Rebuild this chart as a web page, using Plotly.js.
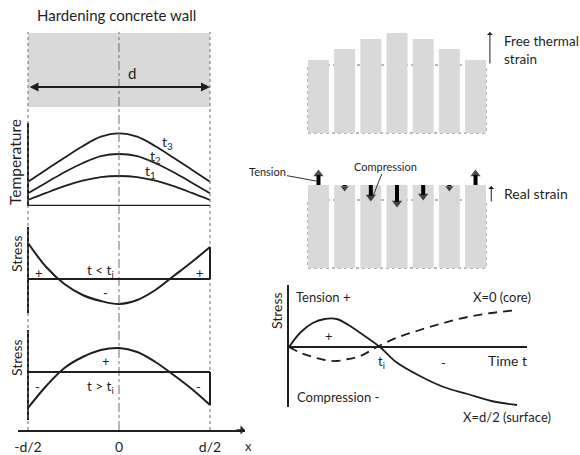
<!DOCTYPE html>
<html><head><meta charset="utf-8">
<script src="https://cdn.plot.ly/plotly-3.0.1.min.js"></script>
<style>html,body{margin:0;padding:0;background:#fff}#chart{width:580px;height:455px}</style>
</head><body><div id="chart"></div>
<script>
// ---------------- data ----------------
// positions across the wall thickness (in units of d)
const wallPos = [-0.5, -0.4, -0.3, -0.2, -0.1, 0, 0.1, 0.2, 0.3, 0.4, 0.5];
const wallTicks = [-0.5, 0, 0.5];
const wallTickText = ['-d/2', '0', 'd/2'];
// temperature profiles at three times
const tempT1 = [5.7, 12.8, 19.5, 25, 28.6, 29.7, 28.6, 25, 19.5, 12.8, 5.7];
const tempT2 = [12.4, 23, 33.5, 42.5, 49.5, 51.7, 49.5, 42.5, 33.5, 23, 12.4];
const tempT3 = [24, 36, 48, 59.5, 69, 72.4, 69, 59.5, 48, 36, 24];
// stress profiles before / after ti
const stressEarly = [36, 12, -5, -16, -22, -25, -21, -11, 3, 17, 32];
const stressLate = [-36, -14, 4, 15, 22, 24, 20, 10, -3, -17, -33];
// strips of the wall
const strips = [1, 2, 3, 4, 5, 6, 7];
const initialLength = 68;
const freeLength = [73, 84, 94, 100, 94, 84, 73];
const realLength = [83, 83, 83, 83, 83, 83, 83];
const restraintArrow = [15, -6, -16, -22, -15, -6, 15];
// stress development in time
const timeSurface = [0, 0.5, 1, 1.5, 2, 2.5, 3, 3.82, 4.5, 5.5, 6.5, 7.5, 8.5, 9.58];
const stressSurface = [0, 15, 24, 28, 28, 22, 14, 0, -15, -29, -40, -47, -54, -58];
const timeCore = [0, 0.5, 1, 1.5, 2, 2.5, 3, 3.7, 4.5, 5.5, 6.5, 7.5, 8.5, 9.58];
const stressCore = [0, -6, -10, -13, -14, -12, -9, 0, 9, 17, 24, 30, 34, 37];

// ---------------- helpers ----------------
const W = 580, H = 455;
const PX = v => v / W;
const PY = v => 1 - v / H;
const INK = '#1f1f1f';
const FONT = 'Lato, "Open Sans", sans-serif';
const GRAY = '#d9d9d9';
const XMIN = -0.5 - 10 / 182, XMAX = 0.5 + 35 / 182;
const X2MIN = 0.6 - 68 / 26.18, X2MAX = 7.4 + 94 / 26.18;

const base = {type: 'scatter', hoverinfo: 'skip', showlegend: false};
const line = (y, ya, w) => Object.assign({}, base, {
  x: wallPos, y: y, xaxis: 'x', yaxis: ya, mode: 'lines',
  line: {color: INK, width: w || 2, shape: 'spline', smoothing: 1}
});

// restraint stress arrows: shafts and heads built from the arrow values
const HEAD = 4;
const shaftX = [], shaftY = [], headY = [], headSym = [], headSize = [];
strips.forEach((s, i) => {
  const a = restraintArrow[i], sg = Math.sign(a), big = Math.abs(a) > 8;
  shaftX.push(s, s, null);
  shaftY.push(realLength[i], realLength[i] + a - sg * (HEAD + 1), null);
  headY.push(realLength[i] + a - sg * (big ? HEAD : 3));
  headSym.push(sg > 0 ? 'triangle-up' : 'triangle-down');
  headSize.push(big ? 9 : 7);
});

const traces = [
  line(tempT1, 'y', 1.8),
  line(tempT2, 'y', 1.8),
  line(tempT3, 'y', 1.8),
  line(stressEarly, 'y2'),
  line(stressLate, 'y3'),
  {x: strips, y: freeLength, type: 'bar', xaxis: 'x2', yaxis: 'y4', width: 0.8,
   marker: {color: GRAY, line: {width: 0}}, hoverinfo: 'skip', showlegend: false},
  {x: strips, y: realLength, type: 'bar', xaxis: 'x2', yaxis: 'y5', width: 0.8,
   marker: {color: GRAY, line: {width: 0}}, hoverinfo: 'skip', showlegend: false},
  Object.assign({}, base, {x: timeSurface, y: stressSurface, xaxis: 'x3', yaxis: 'y6', mode: 'lines',
   line: {color: INK, width: 1.8, shape: 'spline'}}),
  Object.assign({}, base, {x: timeCore, y: stressCore, xaxis: 'x3', yaxis: 'y6', mode: 'lines',
   line: {color: INK, width: 1.8, shape: 'spline', dash: '9px,6px'}}),
  Object.assign({}, base, {x: shaftX, y: shaftY, xaxis: 'x2', yaxis: 'y5', mode: 'lines', cliponaxis: false,
   line: {color: '#000', width: 4}}),
  Object.assign({}, base, {x: strips, y: headY, xaxis: 'x2', yaxis: 'y5', mode: 'markers', cliponaxis: false,
   marker: {symbol: headSym, size: headSize, color: '#000', line: {width: 0}}})
];

const hidden = {visible: false, showgrid: false, zeroline: false};
const leftY = (dom, rng) => ({
  domain: dom, range: rng, anchor: 'free', position: PX(28), showline: true, linecolor: INK, linewidth: 2,
  showgrid: false, zeroline: false, showticklabels: false, ticks: ''
});

const shapes = [
  // concrete wall
  {type: 'rect', xref: 'x', yref: 'paper', x0: -0.5, x1: 0.5, y0: PY(107), y1: PY(33), fillcolor: GRAY, line: {width: 0}, layer: 'below'},
  // section lines
  {type: 'line', xref: 'x', yref: 'paper', x0: -0.5, x1: -0.5, y0: PY(430), y1: PY(32), line: {color: '#6f6f6f', width: 1, dash: '3px,3px'}},
  {type: 'line', xref: 'x', yref: 'paper', x0: 0.5, x1: 0.5, y0: PY(430), y1: PY(32), line: {color: '#6f6f6f', width: 1, dash: '3px,3px'}},
  {type: 'line', xref: 'x', yref: 'paper', x0: 0, x1: 0, y0: PY(430), y1: PY(32), line: {color: '#6f6f6f', width: 1, dash: 'dashdot'}},
  // baselines
  {type: 'line', xref: 'x', yref: 'y', x0: -0.5, x1: 0.5, y0: 0, y1: 0, line: {color: INK, width: 2}},
  {type: 'line', xref: 'x', yref: 'y2', x0: -0.5, x1: 0.5, y0: 0, y1: 0, line: {color: INK, width: 2}},
  {type: 'line', xref: 'x', yref: 'y3', x0: -0.5, x1: 0.5, y0: 0, y1: 0, line: {color: INK, width: 2}},
  {type: 'line', xref: 'x', yref: 'y2', x0: 0.5, x1: 0.5, y0: 0, y1: stressEarly[stressEarly.length - 1], line: {color: INK, width: 2}},
  {type: 'line', xref: 'x', yref: 'y3', x0: 0.5, x1: 0.5, y0: 0, y1: stressLate[stressLate.length - 1], line: {color: INK, width: 2}},
  // initial length outlines
  {type: 'rect', xref: 'x2', yref: 'y4', x0: 0.6, x1: 7.4, y0: 0, y1: initialLength, line: {color: '#6f6f6f', width: 1, dash: '3px,3px'}, layer: 'below'},
  {type: 'rect', xref: 'x2', yref: 'y5', x0: 0.6, x1: 7.4, y0: 0, y1: initialLength, line: {color: '#6f6f6f', width: 1, dash: '3px,3px'}, layer: 'below'}
];

const ann = [];
const T = (text, x, y, size, extra) => ann.push(Object.assign({
  text: text, x: PX(x), y: PY(y), xref: 'paper', yref: 'paper', showarrow: false,
  font: {family: FONT, size: size || 13, color: INK}, xanchor: 'center', yanchor: 'middle'
}, extra || {}));

T('Hardening concrete wall', 116, 15, 15);
T('d', 132, 73, 15);
T('Temperature', 15, 162, 15.5, {textangle: -90});
T('t<sub>3</sub>', 167, 142, 14);
T('t<sub>2</sub>', 155, 156, 14);
T('t<sub>1</sub>', 150, 171, 14);
T('Stress', 16, 254, 14, {textangle: -90});
T('+', 39, 273, 13);
T('+', 200, 273, 13);
T('t &lt; t<sub>i</sub>', 100, 271, 13.5);
T('-', 105, 293, 13);
T('Stress', 16, 358, 14, {textangle: -90});
T('+', 106, 361, 13);
T('t &gt; t<sub>i</sub>', 100, 387, 13.5);
T('-', 37, 387, 13);
T('-', 198, 387, 13);
T('x', 248, 446, 13);
T('Free thermal<br>strain', 502, 50, 13.5, {xanchor: 'left', align: 'left'});
T('Real strain', 502, 193, 14, {xanchor: 'left'});
T('Stress', 276, 311, 14, {textangle: -90});
T('Tension +', 323, 297, 13);
T('X=0 (core)', 502, 297, 13);
T('+', 329, 336, 13);
T('t<sub>i</sub>', 381, 362, 13);
T('-', 443, 363, 13);
T('Time t', 507, 360, 14);
T('Compression -', 338, 397, 13);
T('X=d/2 (surface)', 507, 417, 13);

// dimension arrow "d" across the wall
ann.push({x: wallTicks[2], y: PY(87), xref: 'x', yref: 'paper', ax: wallTicks[0], ay: 0, axref: 'x', ayref: 'pixel',
  text: '', showarrow: true, arrowhead: 2, arrowside: 'end+start', arrowsize: 1, arrowwidth: 1.8, arrowcolor: INK});
// x axis arrow head
ann.push({x: XMAX, y: PY(430), xref: 'x', yref: 'paper', ax: -10, ay: 0,
  text: '', showarrow: true, arrowhead: 1, arrowsize: 1, arrowwidth: 1.5, arrowcolor: INK});
// free thermal strain / real strain indicators
ann.push({x: strips.length + 0.55, y: Math.max(...freeLength) + 1, xref: 'x2', yref: 'y4',
  ax: strips.length + 0.55, ay: initialLength, axref: 'x2', ayref: 'y4',
  text: '', showarrow: true, arrowhead: 1, arrowsize: 1, arrowwidth: 1, arrowcolor: INK});
ann.push({x: strips.length + 0.6, y: Math.max(...realLength) - 1, xref: 'x2', yref: 'y5',
  ax: strips.length + 0.6, ay: initialLength - 3, axref: 'x2', ayref: 'y5',
  text: '', showarrow: true, arrowhead: 1, arrowsize: 1, arrowwidth: 1, arrowcolor: INK});
// leader labels
ann.push({x: PX(316), y: PY(181), xref: 'paper', yref: 'paper', ax: -49, ay: -9, text: 'Tension',
  showarrow: true, arrowhead: 0, arrowwidth: 1, arrowcolor: '#333', font: {family: FONT, size: 11, color: INK}});
ann.push({x: PX(373), y: PY(196), xref: 'paper', yref: 'paper', ax: 12, ay: -30, text: 'Compression',
  showarrow: true, arrowhead: 0, arrowwidth: 1, arrowcolor: '#333', font: {family: FONT, size: 11, color: INK}});

const layout = {
  width: W, height: H, margin: {l: 0, r: 0, t: 0, b: 0},
  paper_bgcolor: '#fff', plot_bgcolor: 'rgba(0,0,0,0)', showlegend: false,
  font: {family: FONT, color: INK},
  xaxis: {domain: [PX(18), PX(245)], range: [XMIN, XMAX], anchor: 'free', position: PY(430),
    showline: true, linecolor: INK, linewidth: 1.5, showgrid: false, zeroline: false,
    tickvals: wallTicks, ticktext: wallTickText, ticks: '', ticklabelstandoff: 4,
    tickfont: {family: FONT, size: 14, color: INK}},
  yaxis: leftY([PY(206), PY(123)], [-0.3, 82.7]),
  yaxis2: leftY([PY(313), PY(227)], [-34, 52]),
  yaxis3: leftY([PY(420), PY(330)], [-48, 42]),
  xaxis2: Object.assign({domain: [PX(240), 1], range: [X2MIN, X2MAX], anchor: 'y4'}, hidden),
  yaxis4: Object.assign({domain: [PY(140), PY(20)], range: [-7, 113], anchor: 'x2'}, hidden),
  yaxis5: Object.assign({domain: [PY(275), PY(150)], range: [-7, 118], anchor: 'x2'}, hidden),
  xaxis3: Object.assign({domain: [PX(289), PX(527)], range: [0, 10], anchor: 'y6'}, hidden),
  yaxis6: {domain: [PY(407), PY(285)], range: [-60, 62], anchor: 'x3', showline: true, linecolor: INK, linewidth: 2,
    showgrid: false, zeroline: true, zerolinecolor: INK, zerolinewidth: 2, showticklabels: false, ticks: ''},
  shapes: shapes,
  annotations: ann
};

Plotly.newPlot('chart', traces, layout, {staticPlot: true, displayModeBar: false});
</script>
</body></html>
